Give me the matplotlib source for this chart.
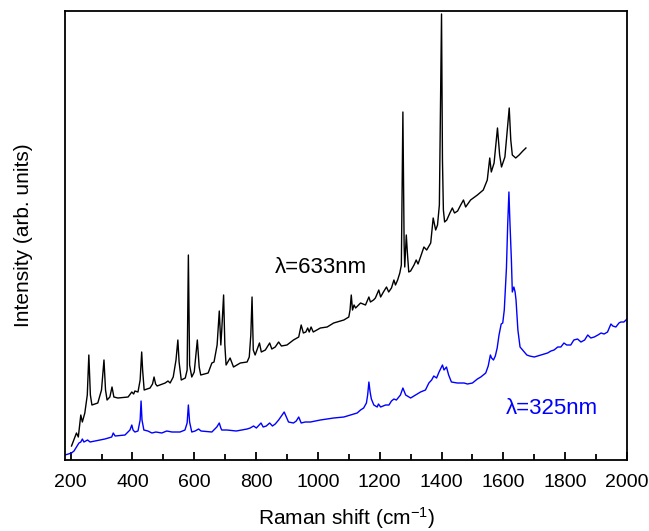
import matplotlib
matplotlib.use("Agg")
import matplotlib.pyplot as plt
from matplotlib.ticker import MultipleLocator

plt.rcParams['font.family'] = ['Liberation Sans', 'DejaVu Sans']
plt.rcParams['mathtext.default'] = 'regular'

# Raman shift (cm-1) and intensity (arb. units)
shift_633 = [203, 219, 225, 233, 238, 246, 254, 259, 264, 269, 288, 300, 308, 313, 318,
             327, 334, 340, 353, 386, 398, 404, 408, 418, 425, 430, 433, 438, 457, 465,
             470, 475, 480, 506, 515, 522, 532, 541, 547, 551, 558, 571, 577, 581, 585,
             592, 600, 610, 616, 621, 645, 657, 664, 674, 681, 686, 689, 695, 699, 703,
             716, 727, 749, 771, 778, 783, 787, 791, 797, 811, 817, 830, 844, 851, 862,
             873, 882, 900, 921, 938, 946, 953, 961, 967, 972, 978, 985, 1008, 1030, 1051,
             1084, 1100, 1104, 1108, 1112, 1117, 1122, 1138, 1154, 1165, 1170, 1180, 1186,
             1197, 1203, 1212, 1222, 1229, 1238, 1246, 1251, 1258, 1265, 1270, 1275, 1279,
             1281, 1286, 1290, 1294, 1300, 1311, 1318, 1324, 1332, 1343, 1352, 1365, 1373,
             1381, 1387, 1393, 1400, 1403, 1406, 1410, 1417, 1427, 1435, 1442, 1452, 1462,
             1471, 1478, 1494, 1516, 1535, 1548, 1556, 1561, 1570, 1581, 1588, 1594, 1605,
             1619, 1624, 1629, 1640, 1651, 1663, 1673]
int_633 = [14, 27, 23, 45, 38, 47, 65, 105, 65, 55, 57, 70, 100, 70, 60,
           63, 73, 63, 62, 63, 68, 66, 69, 68, 80, 108, 90, 70, 72, 76,
           83, 76, 74, 77, 79, 77, 83, 100, 120, 98, 80, 82, 90, 205, 95,
           83, 88, 120, 93, 85, 87, 97, 98, 115, 149, 115, 130, 165, 115, 95,
           102, 93, 97, 98, 103, 125, 163, 110, 105, 117, 108, 110, 117, 111, 113,
           118, 114, 115, 120, 123, 135, 127, 128, 132, 128, 133, 128, 132, 133, 137,
           140, 143, 150, 165, 150, 155, 152, 157, 155, 163, 158, 160, 162,
           170, 163, 168, 173, 168, 172, 180, 175, 180, 187, 195, 348, 215,
           193, 225, 205, 188, 189, 195, 200, 196, 203, 213, 210, 217, 242,
           230, 235, 255, 446, 300, 250, 238, 240, 247, 252, 247, 249, 255,
           260, 253, 260, 265, 270, 280, 302, 288, 297, 332, 305, 293, 303,
           352, 320, 305, 302, 305, 309, 312]

shift_325 = [182, 203, 211, 219, 227, 233, 238, 243, 255, 263, 279, 311, 333, 338, 344,
             376, 392, 398, 402, 408, 418, 425, 428, 431, 437, 450, 463, 476, 495, 511,
             528, 554, 570, 577, 581, 585, 592, 603, 614, 622, 657, 673, 681, 686, 689,
             706, 736, 771, 781, 792, 801, 816, 823, 833, 844, 853, 862, 873, 882, 891,
             898, 905, 921, 930, 938, 946, 959, 976, 1008, 1051, 1084, 1105, 1127, 1138, 1148,
             1157, 1161, 1165, 1169, 1173, 1181, 1192, 1196, 1203, 1219, 1230, 1238, 1246, 1254,
             1267, 1275, 1284, 1300, 1316, 1332, 1348, 1359, 1368, 1375, 1384, 1392, 1403, 1408,
             1416, 1423, 1432, 1451, 1473, 1484, 1500, 1516, 1527, 1543, 1551, 1558, 1562, 1568,
             1574, 1580, 1586, 1593, 1598, 1603, 1610, 1614, 1618, 1621, 1626, 1629, 1634, 1638,
             1641, 1644, 1647, 1654, 1665, 1676, 1685, 1700, 1721, 1743, 1754, 1764, 1776, 1786,
             1796, 1805, 1818, 1828, 1840, 1851, 1863, 1873, 1883, 1894, 1906, 1916, 1926, 1937,
             1948, 1954, 1964, 1974, 1980, 1990, 2000]
int_325 = [5, 7, 9, 13, 17, 18, 21, 18, 20, 18, 19, 21, 23, 27, 24,
           25, 30, 35, 30, 28, 29, 40, 59, 40, 30, 29, 27, 28, 27, 29,
           28, 28, 30, 37, 55, 38, 28, 29, 31, 29, 28, 33, 37, 32, 30,
           30, 29, 31, 32, 34, 32, 37, 33, 34, 37, 34, 36, 40, 44, 48,
           43, 38, 37, 39, 43, 37, 38, 38, 40, 42, 43, 45, 47, 50, 52,
           57, 65, 78, 68, 61, 55, 53, 56, 53, 55, 55, 59, 61, 60,
           65, 72, 65, 62, 65, 68, 70, 77, 80, 84, 82, 88, 95, 90,
           93, 85, 78, 77, 77, 76, 77, 81, 83, 87, 94, 105, 102, 100,
           104, 112, 125, 136, 137, 150, 192, 235, 268, 240, 200, 168, 173, 168,
           160, 145, 130, 113, 109, 105, 104, 103, 105, 107, 109, 110, 113, 113,
           117, 115, 115, 120, 121, 118, 120, 125, 122, 123, 125, 127, 126, 128,
           136, 134, 133, 137, 138, 138, 141]

fig = plt.figure(figsize=(6.49, 5.31), dpi=100)
ax = fig.add_axes([0.1002, 0.1337, 0.8659, 0.8456])

ax.plot(shift_633, int_633, color='black', lw=1.0)
ax.plot(shift_325, int_325, color='blue', lw=1.0)

ax.text(1011, 192, 'λ=633nm', color='black', fontsize=16, ha='center', va='center')
ax.text(1757, 52, 'λ=325nm', color='blue', fontsize=16, ha='center', va='center')

ax.set_xlim(182, 2000)
ax.set_ylim(0, 449)
ax.xaxis.set_major_locator(MultipleLocator(200))
ax.xaxis.set_minor_locator(MultipleLocator(100))
ax.tick_params(axis='x', which='major', direction='in', length=6, width=1.3,
               labelsize=14, pad=10)
ax.tick_params(axis='x', which='minor', direction='in', length=4, width=1.3)
ax.set_yticks([])
for s in ax.spines.values():
    s.set_linewidth(1.3)

ax.set_xlabel('Raman shift (cm$^{-1}$)', fontsize=15, labelpad=10)
ax.set_ylabel('Intensity (arb. units)', fontsize=15, labelpad=23)

fig.savefig('out.png', dpi=100)
